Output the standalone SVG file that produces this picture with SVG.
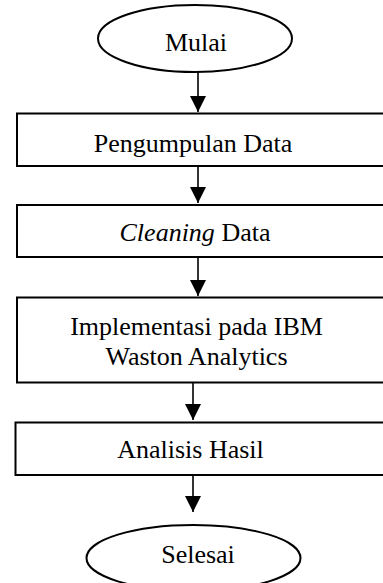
<svg xmlns="http://www.w3.org/2000/svg" width="383" height="583" viewBox="0 0 383 583">
<defs>
<style>
.shape{fill:#fff;stroke:#000;stroke-width:2}
.lbl{font-family:"Liberation Serif","Times New Roman",serif;font-size:26px;fill:#000;text-anchor:middle}
.conn{stroke:#000;stroke-width:1.6;fill:none}
</style>
<marker id="ah" viewBox="0 0 16 16" refX="16" refY="8" markerWidth="16" markerHeight="16" markerUnits="userSpaceOnUse" orient="auto">
<path d="M0,0 L16,8 L0,16 Z" fill="#000"/>
</marker>
</defs>
<rect width="383" height="583" fill="#fff"/>
<g id="connectors">
<line class="conn" x1="198" y1="72" x2="198" y2="112" marker-end="url(#ah)"/>
<line class="conn" x1="198" y1="166" x2="198" y2="203" marker-end="url(#ah)"/>
<line class="conn" x1="198" y1="257" x2="198" y2="296" marker-end="url(#ah)"/>
<line class="conn" x1="193" y1="383" x2="193" y2="420" marker-end="url(#ah)"/>
<line class="conn" x1="193" y1="475" x2="193" y2="512" marker-end="url(#ah)"/>
</g>
<g id="mulai">
<ellipse class="shape" cx="195" cy="38.5" rx="97" ry="33.5"/>
<text class="lbl" x="196" y="51">Mulai</text>
</g>
<g id="pengumpulan">
<rect class="shape" x="17" y="113.5" width="380" height="52.5"/>
<text class="lbl" x="193" y="152">Pengumpulan Data</text>
</g>
<g id="cleaning">
<rect class="shape" x="17" y="205" width="380" height="52"/>
<text class="lbl" x="195" y="241"><tspan font-style="italic">Cleaning</tspan> Data</text>
</g>
<g id="implementasi">
<rect class="shape" x="17" y="297.5" width="380" height="85"/>
<text class="lbl" x="196.5" y="335">Implementasi pada IBM</text>
<text class="lbl" x="196.5" y="365">Waston Analytics</text>
</g>
<g id="analisis">
<rect class="shape" x="15.5" y="422.5" width="380" height="52.5"/>
<text class="lbl" x="190.5" y="458">Analisis Hasil</text>
</g>
<g id="selesai">
<ellipse class="shape" cx="193.5" cy="558" rx="107" ry="33"/>
<text class="lbl" x="198" y="563">Selesai</text>
</g>
</svg>
